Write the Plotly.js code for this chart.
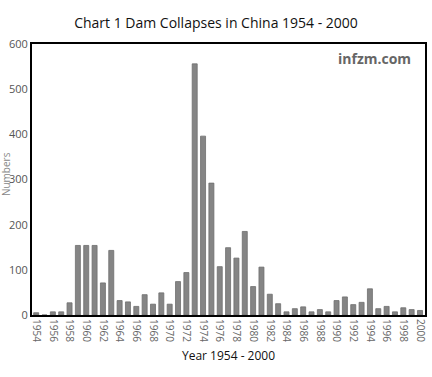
<!DOCTYPE html>
<html>
<head>
<meta charset="utf-8">
<script src="https://cdn.plot.ly/plotly-3.0.1.min.js"></script>
<style>html,body{margin:0;padding:0;background:#fff}#chart{width:432px;height:377px}</style>
</head>
<body>
<div id="chart"></div>
<script>
const years = [1954,1955,1956,1957,1958,1959,1960,1961,1962,1963,1964,1965,1966,1967,1968,1969,1970,1971,1972,1973,1974,1975,1976,1977,1978,1979,1980,1981,1982,1983,1984,1985,1986,1987,1988,1989,1990,1991,1992,1993,1994,1995,1996,1997,1998,1999,2000];
const collapses = [5,0,7,7,27,154,154,154,71,143,32,29,19,45,24,49,24,74,94,556,396,292,107,149,126,185,63,106,46,25,7,14,18,7,12,7,32,40,23,28,58,14,19,7,16,12,10];
const tickYears = [1954,1956,1958,1960,1962,1964,1966,1968,1970,1972,1974,1976,1978,1980,1982,1984,1986,1988,1990,1992,1994,1996,1998,2000];
const yTicks = [0,100,200,300,400,500,600];

const trace = {
  type: 'bar', x: years, y: collapses,
  marker: {color: '#858585', line: {color: '#6e6e6e', width: 0.8}},
  width: 0.6, hoverinfo: 'x+y'
};
const layout = {
  width: 432, height: 377,
  margin: {l: 32, r: 7, t: 44, b: 62},
  paper_bgcolor: '#fff', plot_bgcolor: '#fff',
  font: {family: 'Open Sans, Noto Sans, sans-serif', color: '#555'},
  showlegend: false,
  title: {text: 'Chart 1 Dam Collapses in China 1954 - 2000', font: {size: 14, color: '#111'}, x: 0.5, xanchor: 'center', y: 0.94, yanchor: 'middle'},
  xaxis: {
    range: [1953.5, 2000.6], tickmode: 'array', tickvals: tickYears, ticktext: tickYears.map(String),
    tickangle: 90, tickfont: {size: 10, color: '#666'}, ticks: '', showgrid: false, zeroline: false,
    showline: true, linecolor: '#000', linewidth: 2, mirror: true,
    title: {text: 'Year 1954 - 2000', font: {size: 12, color: '#111'}, standoff: 10}
  },
  yaxis: {
    range: [0, 600], tickmode: 'array', tickvals: yTicks, ticktext: yTicks.map(String),
    tickfont: {size: 11, color: '#555'}, ticks: '', showgrid: false, zeroline: false,
    showline: true, linecolor: '#000', linewidth: 2, mirror: true
  },
  annotations: [{
    text: '<b>infzm.com</b>', xref: 'paper', yref: 'paper', x: 0.97, y: 0.945,
    xanchor: 'right', yanchor: 'middle', showarrow: false, font: {size: 14, color: '#666'}
  }, {
    text: 'Numbers', xref: 'paper', yref: 'paper', x: -26/393, y: 0.52,
    xanchor: 'center', yanchor: 'middle', textangle: -90, showarrow: false,
    font: {size: 10, color: '#888'}
  }]
};
Plotly.newPlot('chart', [trace], layout, {displayModeBar: false, staticPlot: true});
</script>
</body>
</html>
